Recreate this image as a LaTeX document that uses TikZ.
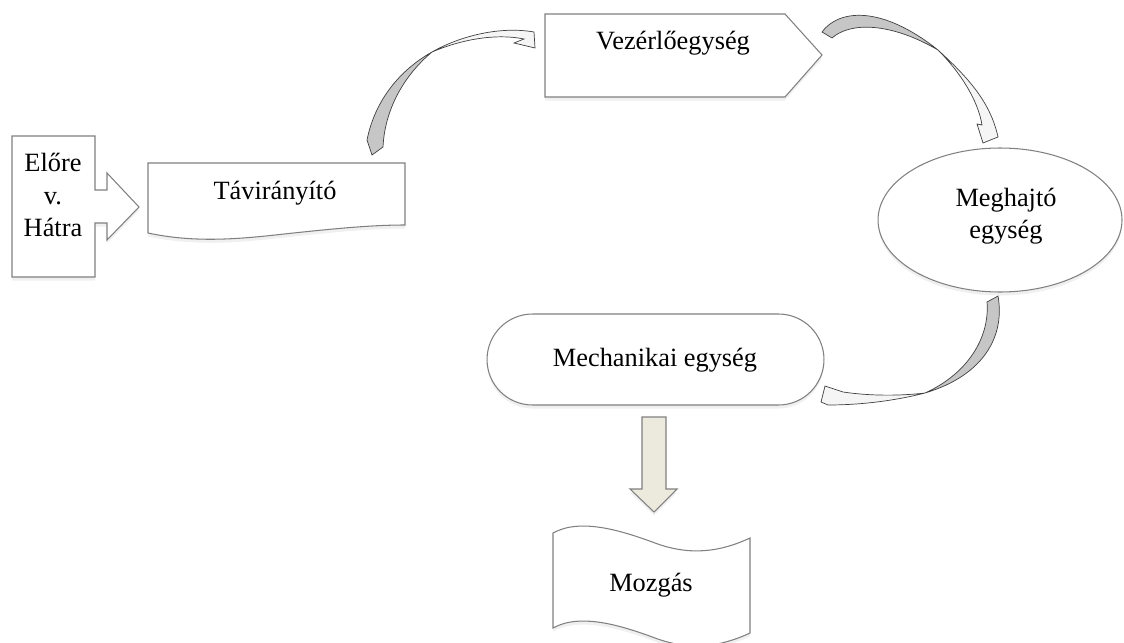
\documentclass[tikz,border=0pt]{standalone}
\usepackage{fontspec}
\setmainfont{Liberation Serif}
\usetikzlibrary{shapes.geometric,shapes.misc,shadows}

\definecolor{paleolive}{RGB}{236,234,221}

\tikzset{
  box/.style={draw=gray, line width=0.6pt, fill=white,
    drop shadow={opacity=0.12, shadow xshift=0pt, shadow yshift=-2pt}},
  txt/.style={font=\fontsize{15}{18.4}\selectfont, align=center, inner sep=0pt},
  backside/.style={draw=black!75, line width=0.4pt, fill=gray!45},
  frontside/.style={draw=black!75, line width=0.4pt, fill=gray!8},
}

\begin{document}
\begin{tikzpicture}[x=0.02cm, y=-0.02cm]
    \useasboundingbox (0,0) rectangle (1124,642);

    % Input: callout pointing at the remote
    \draw[box] (12,136) -- (95,136) -- (95,190) -- (107,190) -- (107,173) -- (139,207)
      -- (107,240) -- (107,223) -- (95,223) -- (95,277) -- (12,277) -- cycle;
    \node[txt] (cmd) at (53,195) {Előre\\v.\\Hátra};

    % Remote control (document shape)
    \draw[box] (148,163) -- (405,163) -- (405,225)
      .. controls (370,225) and (330,229) .. (275,235)
      .. controls (230,240) and (190,242) .. (148,233) -- cycle;
    \node[txt, anchor=base] (remote) at (275,199) {Távirányító};

    % Control unit (pentagon)
    \draw[box] (545,14) -- (785,14) -- (822,55) -- (785,97) -- (545,97) -- cycle;
    \node[txt, anchor=base] (ctrl) at (673,50) {Vezérlőegység};

    % Drive unit
    \node[box, ellipse, minimum width=4.88cm, minimum height=2.88cm, inner sep=0pt]
      (drive) at (1000,220) {};
    \node[txt] (drivetxt) at (1006,216) {Meghajtó\\egység};

    % Mechanical unit
    \node[box, rounded rectangle, minimum width=6.74cm, minimum height=1.82cm, inner sep=0pt]
      (mech) at (655.5,359.5) {};
    \node[txt, anchor=base] (mechtxt) at (655,366) {Mechanikai egység};

    % Output (tape shape)
    \draw[box] (553,533) .. controls (580,518) and (620,530) .. (655,543)
      .. controls (690,556) and (720,552) .. (750,538) -- (750,633)
      .. controls (720,647) and (690,651) .. (655,638)
      .. controls (620,625) and (580,613) .. (553,628) -- cycle;
    \node[txt, anchor=base] (move) at (651,591) {Mozgás};

    % Straight block arrow down to the output
    \draw[box, fill=paleolive] (642,417) -- (666,417) -- (666,489) -- (677,489) -- (654,512)
      -- (630,489) -- (642,489) -- cycle;

    % Curved arrow: remote -> control unit
    \fill[backside] (367,140) .. controls (375,100) and (400,70) .. (432,52)
      .. controls (408,72) and (385,105) .. (383,147) -- (372,155) -- cycle;
    \fill[frontside] (432,52) .. controls (460,36) and (500,26) .. (534,32)
      -- (535,48) -- (514,43) -- (524,39)
      .. controls (495,33) and (460,40) .. (432,52) -- cycle;

    % Curved arrow: control unit -> drive unit
    \fill[backside] (822,32) .. controls (838,10) and (880,4) .. (938,50)
      .. controls (890,22) and (850,22) .. (832,38) -- cycle;
    \fill[frontside] (938,50) .. controls (965,75) and (990,100) .. (998,137)
      -- (983,143) -- (977,124) -- (982,125)
      .. controls (978,100) and (960,72) .. (938,50) -- cycle;

    % Curved arrow: drive unit -> mechanical unit
    \fill[backside] (998,296) .. controls (1005,335) and (985,375) .. (925,393)
      .. controls (965,375) and (990,340) .. (987,302) -- cycle;
    \fill[frontside] (925,393) .. controls (890,402) and (855,405) .. (828,405)
      -- (821,402) -- (825,386) -- (843,392)
      .. controls (870,396) and (900,396) .. (925,393) -- cycle;
\end{tikzpicture}
\end{document}
